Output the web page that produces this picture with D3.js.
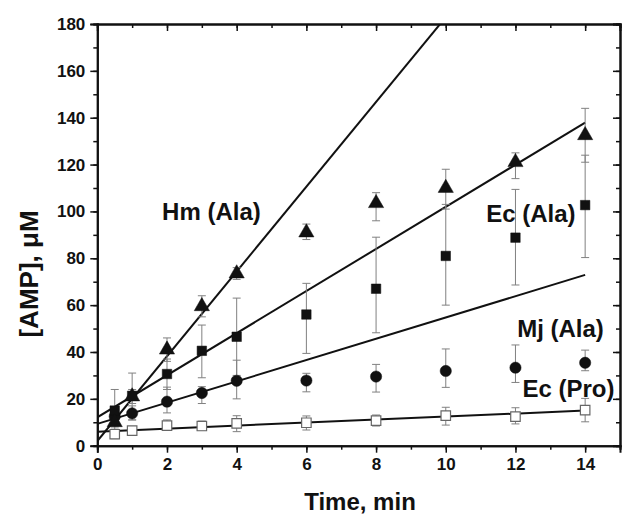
<!DOCTYPE html>
<html>
<head>
<meta charset="utf-8">
<script src="https://cdn.jsdelivr.net/npm/d3@7"></script>
<style>
  body { margin: 0; background: #fff; }
  svg { display: block; }
  text { font-family: "Liberation Sans", Arial, sans-serif; font-weight: bold; fill: #111; }
</style>
</head>
<body>
<div id="chart"></div>
<script>
// time points, min
const times = [0.5, 1, 2, 3, 4, 6, 8, 10, 12, 14];

// Hm (Ala) - filled triangles
const hmAla   = [10, 21, 41, 59.5, 73.5, 91, 103.5, 110, 121, 132.5];
const hmAlaLo = [8, 18, 36, 55, 71, 88, 96, 101, 114, 121];
const hmAlaHi = [13, 24, 46, 64, 76, 94.6, 108, 118, 125, 144];

// Ec (Ala) - filled squares
const ecAla   = [15, 21.3, 30.6, 40.5, 46.5, 56, 67, 81, 88.8, 102.7];
const ecAlaLo = [7, 11, 24, 29, 30, 39.4, 48.2, 60, 68.6, 80.3];
const ecAlaHi = [24, 31, 37, 51.5, 63, 69.3, 89, 103, 109.4, 124];

// Mj (Ala) - filled circles
const mjAla   = [12.5, 13.8, 18.8, 22.5, 27.7, 27.8, 29.5, 31.9, 33.3, 35.4];
const mjAlaLo = [9, 11, 14, 18, 20, 23, 22.9, 24.9, 27, 32];
const mjAlaHi = [15, 17, 25, 25.2, 36.5, 30.9, 34.7, 41.3, 43, 40.8];

// Ec (Pro) - open squares
const ecPro   = [4.9, 6.4, 8.6, 8.4, 9.5, 9.8, 10.7, 12.8, 12.4, 15.2];
const ecProLo = [3, 5, 7, 6.5, 6, 6.7, 8.4, 8.8, 9.3, 10.2];
const ecProHi = [7, 8, 11, 10.5, 12.8, 12.7, 13.1, 16.4, 16.2, 20.2];

// linear fits, endpoints in data units
const hmFit    = [[0, 2], [11, 201]];
const ecAlaFit = [[0, 12.1], [14, 137.9]];
const mjFit    = [[0, 9.3], [14, 72.9]];
const ecProFit = [[0, 6], [14, 15]];

const xTicks = [0, 2, 4, 6, 8, 10, 12, 14];
const yTicks = [0, 20, 40, 60, 80, 100, 120, 140, 160, 180];

// series labels, placed in data units (left edge, baseline)
const labels = [
  {text: 'Hm (Ala)', x: 1.86, y: 96.5},
  {text: 'Ec (Ala)', x: 11.16, y: 95.5},
  {text: 'Mj (Ala)', x: 12.05, y: 46.5},
  {text: 'Ec (Pro)', x: 12.2, y: 21}
];

const W = 622, H = 517;
const margin = {top: 24, right: 2, bottom: 71.3, left: 97.3};
const width = W - margin.left - margin.right;
const height = H - margin.top - margin.bottom;

const svg = d3.select('#chart').append('svg').attr('width', W).attr('height', H);
const g = svg.append('g').attr('transform', `translate(${margin.left},${margin.top})`);

const x = d3.scaleLinear().domain([0, 15]).range([0, width]);
const y = d3.scaleLinear().domain([0, 180]).range([height, 0]);

svg.append('defs').append('clipPath').attr('id', 'clip')
  .append('rect').attr('width', width).attr('height', height);

// axes: bottom/left with outward ticks, top/right with inward ticks
const minorX = d3.range(0, 16, 1), minorY = d3.range(0, 181, 10);

function styleAxis(sel) {
  sel.select('.domain').attr('stroke', '#111').attr('stroke-width', 2);
  sel.selectAll('.tick line').attr('stroke', '#111').attr('stroke-width', 1.5);
  sel.selectAll('.tick text').style('font-size', '17px').attr('fill', '#111');
}

g.append('g').attr('transform', `translate(0,${height})`)
  .call(d3.axisBottom(x).tickValues(minorX).tickSize(4).tickFormat('')).call(styleAxis);
g.append('g').attr('transform', `translate(0,${height})`)
  .call(d3.axisBottom(x).tickValues(xTicks).tickSize(7).tickPadding(5).tickFormat(d3.format('d')))
  .call(styleAxis);
g.append('g')
  .call(d3.axisLeft(y).tickValues(minorY).tickSize(4).tickFormat('')).call(styleAxis);
g.append('g')
  .call(d3.axisLeft(y).tickValues(yTicks).tickSize(7).tickPadding(5).tickFormat(d3.format('d')))
  .call(styleAxis);
g.append('g')
  .call(d3.axisTop(x).tickValues(minorX).tickSize(-4).tickFormat('')).call(styleAxis);
g.append('g')
  .call(d3.axisTop(x).tickValues(xTicks).tickSize(-7).tickFormat('')).call(styleAxis);
g.append('g').attr('transform', `translate(${width},0)`)
  .call(d3.axisRight(y).tickValues(minorY).tickSize(-4).tickFormat('')).call(styleAxis);
g.append('g').attr('transform', `translate(${width},0)`)
  .call(d3.axisRight(y).tickValues(yTicks).tickSize(-7).tickFormat('')).call(styleAxis);

// fit lines
const line = d3.line().x(d => x(d[0])).y(d => y(d[1]));
const plot = g.append('g').attr('clip-path', 'url(#clip)');
[hmFit, ecAlaFit, mjFit, ecProFit].forEach(f => {
  plot.append('path').datum(f).attr('d', line)
    .attr('fill', 'none').attr('stroke', '#111').attr('stroke-width', 2);
});

// error bars
function errorBars(lo, hi) {
  const eb = g.append('g').attr('stroke', '#808080').attr('stroke-width', 1);
  times.forEach((t, i) => {
    eb.append('line').attr('x1', x(t)).attr('x2', x(t)).attr('y1', y(lo[i])).attr('y2', y(hi[i]));
    [lo[i], hi[i]].forEach(v => {
      eb.append('line').attr('x1', x(t) - 4).attr('x2', x(t) + 4).attr('y1', y(v)).attr('y2', y(v));
    });
  });
}
errorBars(ecProLo, ecProHi);
errorBars(mjAlaLo, mjAlaHi);
errorBars(ecAlaLo, ecAlaHi);
errorBars(hmAlaLo, hmAlaHi);

// markers
const sym = (type, size) => d3.symbol().type(type).size(size);
function markers(vals, type, size, filled) {
  g.append('g').selectAll('path').data(vals).join('path')
    .attr('transform', (d, i) => `translate(${x(times[i])},${y(d)})`)
    .attr('d', sym(type, size))
    .attr('fill', filled ? '#111' : '#fff')
    .attr('stroke', filled ? '#111' : '#666')
    .attr('stroke-width', filled ? 0.5 : 1.2);
}
markers(ecPro, d3.symbolSquare, 90, false);
markers(mjAla, d3.symbolCircle, 100, true);
markers(ecAla, d3.symbolSquare, 90, true);
markers(hmAla, d3.symbolTriangle, 100, true);

// series labels
g.selectAll('.lbl').data(labels).join('text').attr('class', 'lbl')
  .attr('x', d => x(d.x)).attr('y', d => y(d.y))
  .style('font-size', '24px').text(d => d.text);

// axis titles
svg.append('text').attr('x', 360).attr('y', 510).attr('text-anchor', 'middle')
  .style('font-size', '24px').text('Time, min');
svg.append('text').attr('transform', 'translate(38,274) rotate(-90)').attr('text-anchor', 'middle')
  .style('font-size', '26px').text('[AMP], μM');
</script>
</body>
</html>
